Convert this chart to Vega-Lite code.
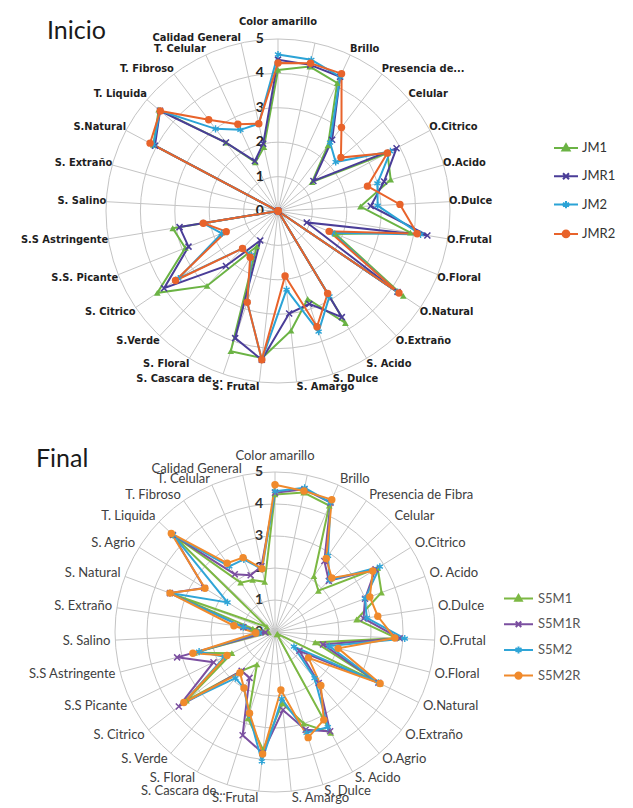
{
  "$schema": "https://vega.github.io/schema/vega-lite/v6.json",
  "padding": 0,
  "spacing": 0,
  "background": "white",
  "config": {"view": {"stroke": null}, "concat": {"spacing": 0}},
  "datasets": {
    "inicio": [
      {"i":0,"c":"Color amarillo","JM1":4.1,"JMR1":4.4,"JM2":4.55,"JMR2":4.3},
      {"i":1,"c":"","JM1":4.3,"JMR1":4.35,"JM2":4.5,"JMR2":4.4},
      {"i":2,"c":"Brillo","JM1":4.1,"JMR1":4.3,"JM2":4.3,"JMR2":4.4},
      {"i":3,"c":"Presencia de...","JM1":2.4,"JMR1":2.6,"JM2":2.5,"JMR2":3.05},
      {"i":4,"c":"Celular","JM1":1.3,"JMR1":1.35,"JM2":2.2,"JMR2":2.4},
      {"i":5,"c":"O.Citrico","JM1":3.6,"JMR1":3.9,"JM2":3.7,"JMR2":3.6},
      {"i":6,"c":"O.Acido","JM1":3.4,"JMR1":3.2,"JM2":3.0,"JMR2":2.7},
      {"i":7,"c":"O.Dulce","JM1":2.4,"JMR1":2.7,"JM2":2.9,"JMR2":3.55},
      {"i":8,"c":"O.Frutal","JM1":3.9,"JMR1":4.4,"JM2":4.2,"JMR2":4.1},
      {"i":9,"c":"O.Floral","JM1":1.8,"JMR1":0.9,"JM2":1.7,"JMR2":1.6},
      {"i":10,"c":"O.Natural","JM1":4.4,"JMR1":4.2,"JM2":4.2,"JMR2":4.25},
      {"i":11,"c":"O.Extraño","JM1":0,"JMR1":0,"JM2":0,"JMR2":0},
      {"i":12,"c":"S. Acido","JM1":3.8,"JMR1":3.6,"JM2":2.9,"JMR2":2.8},
      {"i":13,"c":"S. Dulce","JM1":2.7,"JMR1":2.85,"JM2":3.7,"JMR2":3.55},
      {"i":14,"c":"S. Amargo","JM1":3.5,"JMR1":3.0,"JM2":2.3,"JMR2":1.9},
      {"i":15,"c":"S. Frutal","JM1":4.3,"JMR1":4.35,"JM2":4.35,"JMR2":4.35},
      {"i":16,"c":"S. Cascara de...","JM1":4.3,"JMR1":3.9,"JM2":2.8,"JMR2":2.8},
      {"i":17,"c":"S. Floral","JM1":1.2,"JMR1":1.0,"JM2":1.5,"JMR2":1.57},
      {"i":18,"c":"S.Verde","JM1":3.0,"JMR1":2.2,"JM2":1.5,"JMR2":1.5},
      {"i":19,"c":"S. Citrico","JM1":4.24,"JMR1":4.0,"JM2":3.5,"JMR2":3.6},
      {"i":20,"c":"S.S. Picante","JM1":2.9,"JMR1":2.8,"JM2":1.76,"JMR2":1.62},
      {"i":21,"c":"S.S Astringente","JM1":3.1,"JMR1":2.9,"JM2":2.2,"JMR2":2.2},
      {"i":22,"c":"S. Salino","JM1":0,"JMR1":0,"JM2":0,"JMR2":0},
      {"i":23,"c":"S. Extraño","JM1":0,"JMR1":0,"JM2":0,"JMR2":0},
      {"i":24,"c":"S.Natural","JM1":4.1,"JMR1":4.05,"JM2":4.1,"JMR2":4.21},
      {"i":25,"c":"T. Liquida","JM1":4.55,"JMR1":4.5,"JM2":4.5,"JMR2":4.49},
      {"i":26,"c":"T. Fibroso","JM1":2.5,"JMR1":2.5,"JM2":3.0,"JMR2":3.33},
      {"i":27,"c":"T. Celular","JM1":1.56,"JMR1":1.6,"JM2":2.6,"JMR2":2.78},
      {"i":28,"c":"Calidad General","JM1":1.9,"JMR1":2.0,"JM2":2.6,"JMR2":2.6}
    ],
    "final": [
      {"i":0,"c":"Color amarillo","S5M1":4.3,"S5M1R":4.35,"S5M2":4.4,"S5M2R":4.6},
      {"i":1,"c":"","S5M1":4.45,"S5M1R":4.55,"S5M2":4.6,"S5M2R":4.5},
      {"i":2,"c":"Brillo","S5M1":4.3,"S5M1R":4.4,"S5M2":4.4,"S5M2R":4.5},
      {"i":3,"c":"Presencia de Fibra","S5M1":2.13,"S5M1R":2.7,"S5M2":2.9,"S5M2R":2.8},
      {"i":4,"c":"Celular","S5M1":1.87,"S5M1R":2.32,"S5M2":2.35,"S5M2R":2.45},
      {"i":5,"c":"O.Citrico","S5M1":3.78,"S5M1R":3.7,"S5M2":3.86,"S5M2R":3.6},
      {"i":6,"c":"O. Acido","S5M1":3.55,"S5M1R":3.0,"S5M2":3.0,"S5M2R":3.16},
      {"i":7,"c":"O.Dulce","S5M1":2.58,"S5M1R":2.8,"S5M2":2.9,"S5M2R":3.25},
      {"i":8,"c":"O.Frutal","S5M1":3.8,"S5M1R":3.9,"S5M2":4.06,"S5M2R":3.75},
      {"i":9,"c":"O.Floral","S5M1":1.3,"S5M1R":1.55,"S5M2":1.75,"S5M2R":2.04},
      {"i":10,"c":"O.Natural","S5M1":3.66,"S5M1R":3.6,"S5M2":3.6,"S5M2R":3.66},
      {"i":11,"c":"O.Extraño","S5M1":0.1,"S5M1R":0.96,"S5M2":0.75,"S5M2R":1.32},
      {"i":12,"c":"O.Agrio","S5M1":0.1,"S5M1R":2.1,"S5M2":1.9,"S5M2R":2.2},
      {"i":13,"c":"S. Acido","S5M1":3.6,"S5M1R":3.55,"S5M2":3.4,"S5M2R":3.14},
      {"i":14,"c":"S. Dulce","S5M1":3.0,"S5M1R":3.2,"S5M2":3.3,"S5M2R":3.46},
      {"i":15,"c":"S. Amargo","S5M1":2.24,"S5M1R":2.45,"S5M2":2.1,"S5M2R":1.82},
      {"i":16,"c":"S. Frutal","S5M1":3.7,"S5M1R":3.8,"S5M2":4.06,"S5M2R":3.83},
      {"i":17,"c":"S. Cascara de...","S5M1":2.83,"S5M1R":3.38,"S5M2":2.7,"S5M2R":2.66},
      {"i":18,"c":"S. Floral","S5M1":1.16,"S5M1R":1.64,"S5M2":2.0,"S5M2R":2.0},
      {"i":19,"c":"S. Verde","S5M1":1.6,"S5M1R":1.6,"S5M2":1.9,"S5M2R":1.68},
      {"i":20,"c":"S. Citrico","S5M1":3.5,"S5M1R":3.8,"S5M2":3.6,"S5M2R":3.6},
      {"i":21,"c":"S.S Picante","S5M1":1.5,"S5M1R":2.14,"S5M2":1.75,"S5M2R":1.67},
      {"i":22,"c":"S.S Astringente","S5M1":2.6,"S5M1R":3.16,"S5M2":2.45,"S5M2R":2.65},
      {"i":23,"c":"S. Salino","S5M1":0.2,"S5M1R":0.3,"S5M2":0.5,"S5M2R":0.6},
      {"i":24,"c":"S. Extraño","S5M1":0.7,"S5M1R":1.0,"S5M2":1.0,"S5M2R":1.3},
      {"i":25,"c":"S. Natural","S5M1":3.5,"S5M1R":3.5,"S5M2":3.5,"S5M2R":3.5},
      {"i":26,"c":"S. Agrio","S5M1":0.3,"S5M1R":2.6,"S5M2":1.75,"S5M2R":2.58},
      {"i":27,"c":"T. Liquida","S5M1":4.4,"S5M1R":4.4,"S5M2":4.4,"S5M2R":4.47},
      {"i":28,"c":"T. Fibroso","S5M1":1.88,"S5M1R":2.2,"S5M2":2.5,"S5M2R":2.62},
      {"i":29,"c":"T. Celular","S5M1":1.77,"S5M1R":1.93,"S5M2":2.47,"S5M2R":2.53},
      {"i":30,"c":"Calidad General","S5M1":1.6,"S5M1R":2.1,"S5M2":2.0,"S5M2R":2.02}
    ]
  },
  "resolve": {
    "scale": {"x": "independent", "y": "independent", "color": "independent", "size": "independent"},
    "legend": {"color": "independent"}
  },
  "vconcat": [
    {
      "width": 633,
      "height": 404,
      "title": {"text": "Inicio", "anchor": "start", "frame": "group", "orient": "top", "offset": -64, "dx": 47, "baseline": "alphabetic", "font": "Lato", "fontSize": 25, "fontWeight": "normal", "color": "#1a1a1a"},
      "resolve": {"scale": {"size": "independent"}},
      "layer": [
        {
          "data": {"values": [{"r":1},{"r":2},{"r":3},{"r":4},{"r":5}]},
          "transform": [{"calculate": "0", "as": "o"}],
          "mark": {"type": "point", "shape": "circle", "filled": false, "stroke": "#c4c4c4", "strokeWidth": 1, "opacity": 1},
          "encoding": {
            "x": {"field": "o", "type": "quantitative", "scale": {"domain": [-8.0814, 10.3198], "nice": false, "zero": false}, "axis": null},
            "y": {"field": "o", "type": "quantitative", "scale": {"domain": [-5.6105, 6.1337], "nice": false, "zero": false}, "axis": null},
            "size": {"field": "r", "type": "quantitative", "scale": {"type": "pow", "exponent": 2, "domain": [0, 5], "range": [0, 118336]}, "legend": null}
          }
        },
        {
          "data": {"name": "inicio"},
          "transform": [
            {"calculate": "datum.i*2*PI/29", "as": "a"},
            {"calculate": "0", "as": "o"},
            {"calculate": "5*sin(datum.a)", "as": "ex"},
            {"calculate": "5*cos(datum.a)", "as": "ey"}
          ],
          "mark": {"type": "rule", "stroke": "#c4c4c4", "strokeWidth": 1},
          "encoding": {
            "x": {"field": "o", "type": "quantitative", "scale": {"domain": [-8.0814, 10.3198], "nice": false, "zero": false}, "axis": null},
            "y": {"field": "o", "type": "quantitative", "scale": {"domain": [-5.6105, 6.1337], "nice": false, "zero": false}, "axis": null},
            "x2": {"field": "ex"},
            "y2": {"field": "ey"}
          }
        },
        {
          "data": {"values": [{"t":0},{"t":1},{"t":2},{"t":3},{"t":4},{"t":5}]},
          "transform": [{"calculate": "0", "as": "o"}],
          "mark": {"type": "text", "align": "right", "baseline": "middle", "dx": -14, "font": "Lato", "fontSize": 14, "fontWeight": "bold", "color": "#222"},
          "encoding": {
            "x": {"field": "o", "type": "quantitative", "scale": {"domain": [-8.0814, 10.3198], "nice": false, "zero": false}, "axis": null},
            "y": {"field": "t", "type": "quantitative", "scale": {"domain": [-5.6105, 6.1337], "nice": false, "zero": false}, "axis": null},
            "text": {"field": "t", "type": "quantitative"}
          }
        },
        {
          "data": {"name": "inicio"},
          "transform": [
            {"calculate": "datum.i*2*PI/29", "as": "a"},
            {"calculate": "sin(datum.a)", "as": "sx"},
            {"calculate": "cos(datum.a)", "as": "cy"},
            {"filter": "datum.sx > 0.05"},
            {"calculate": "4.98*datum.sx", "as": "lx"},
            {"calculate": "5.0*datum.cy + 0.16*max(-1, min(1, 1.5*datum.cy))", "as": "ly"}
          ],
          "mark": {"type": "text", "align": "left", "baseline": "middle", "font": "Liberation Sans Narrow, DejaVu Sans Condensed, Roboto", "fontSize": 11, "fontWeight": "bold", "color": "#1e1e1e"},
          "encoding": {
            "x": {"field": "lx", "type": "quantitative", "scale": {"domain": [-8.0814, 10.3198], "nice": false, "zero": false}, "axis": null},
            "y": {"field": "ly", "type": "quantitative", "scale": {"domain": [-5.6105, 6.1337], "nice": false, "zero": false}, "axis": null},
            "text": {"field": "c", "type": "nominal"}
          }
        },
        {
          "data": {"name": "inicio"},
          "transform": [
            {"calculate": "datum.i*2*PI/29", "as": "a"},
            {"calculate": "sin(datum.a)", "as": "sx"},
            {"calculate": "cos(datum.a)", "as": "cy"},
            {"filter": "datum.sx < -0.05"},
            {"calculate": "5.0*datum.sx", "as": "lx"},
            {"calculate": "5.0*datum.cy + 0.16*max(-1, min(1, 1.5*datum.cy))", "as": "ly"}
          ],
          "mark": {"type": "text", "align": "right", "baseline": "middle", "font": "Liberation Sans Narrow, DejaVu Sans Condensed, Roboto", "fontSize": 11, "fontWeight": "bold", "color": "#1e1e1e"},
          "encoding": {
            "x": {"field": "lx", "type": "quantitative", "scale": {"domain": [-8.0814, 10.3198], "nice": false, "zero": false}, "axis": null},
            "y": {"field": "ly", "type": "quantitative", "scale": {"domain": [-5.6105, 6.1337], "nice": false, "zero": false}, "axis": null},
            "text": {"field": "c", "type": "nominal"}
          }
        },
        {
          "data": {"name": "inicio"},
          "transform": [
            {"calculate": "datum.i*2*PI/29", "as": "a"},
            {"calculate": "sin(datum.a)", "as": "sx"},
            {"calculate": "cos(datum.a)", "as": "cy"},
            {"filter": "abs(datum.sx) <= 0.05"},
            {"calculate": "0", "as": "lx"},
            {"calculate": "5.0*datum.cy", "as": "ly"}
          ],
          "mark": {"type": "text", "align": "center", "baseline": "bottom", "dy": -12, "font": "Liberation Sans Narrow, DejaVu Sans Condensed, Roboto", "fontSize": 11, "fontWeight": "bold", "color": "#1e1e1e"},
          "encoding": {
            "x": {"field": "lx", "type": "quantitative", "scale": {"domain": [-8.0814, 10.3198], "nice": false, "zero": false}, "axis": null},
            "y": {"field": "ly", "type": "quantitative", "scale": {"domain": [-5.6105, 6.1337], "nice": false, "zero": false}, "axis": null},
            "text": {"field": "c", "type": "nominal"}
          }
        },
        {
          "data": {"name": "inicio"},
          "transform": [
            {"fold": ["JM1", "JMR1", "JM2", "JMR2"], "as": ["s", "v"]},
            {"calculate": "datum.i*2*PI/29", "as": "a"},
            {"calculate": "datum.v*sin(datum.a)", "as": "px"},
            {"calculate": "datum.v*cos(datum.a)", "as": "py"}
          ],
          "mark": {"type": "line", "interpolate": "linear-closed", "strokeWidth": 2},
          "encoding": {
            "x": {"field": "px", "type": "quantitative", "scale": {"domain": [-8.0814, 10.3198], "nice": false, "zero": false}, "axis": null},
            "y": {"field": "py", "type": "quantitative", "scale": {"domain": [-5.6105, 6.1337], "nice": false, "zero": false}, "axis": null},
            "order": {"field": "i", "type": "quantitative"},
            "color": {
              "field": "s", "type": "nominal",
              "scale": {"domain": ["JM1", "JMR1", "JM2", "JMR2"], "range": ["#6bb344", "#4a3d98", "#2ba3d6", "#e8632b"]},
              "legend": {
                "orient": "none", "legendX": 553, "legendY": 135, "title": null, "padding": 0,
                "symbolSize": 576, "symbolStrokeWidth": 2, "rowPadding": 8.3,
                "labelFont": "Lato", "labelFontSize": 13, "labelColor": "#333", "labelOffset": 3,
                "encode": {"symbols": {"update": {
                  "shape": {"signal": "datum.value==='JM1' ? 'M-1,0H1M0,-0.32L0.3,0.2H-0.3Z' : datum.value==='JMR1' ? 'M-1,0H1M-0.25,-0.25L0.25,0.25M-0.25,0.25L0.25,-0.25' : datum.value==='JM2' ? 'M-1,0H1M0,-0.3V0.3M-0.26,-0.15L0.26,0.15M-0.26,0.15L0.26,-0.15' : 'M-1,0H1M-0.28,0A0.28,0.28 0 1,0 0.28,0A0.28,0.28 0 1,0 -0.28,0Z'"},
                  "fill": {"signal": "datum.value==='JM1' ? '#6bb344' : datum.value==='JMR1' ? '#4a3d98' : datum.value==='JM2' ? '#2ba3d6' : '#e8632b'"},
                  "stroke": {"signal": "datum.value==='JM1' ? '#6bb344' : datum.value==='JMR1' ? '#4a3d98' : datum.value==='JM2' ? '#2ba3d6' : '#e8632b'"},
                  "strokeWidth": {"value": 2},
                  "opacity": {"value": 1}
                }}}
              }
            }
          }
        },
        {
          "data": {"name": "inicio"},
          "transform": [
            {"calculate": "datum.i*2*PI/29", "as": "a"},
            {"calculate": "datum.JM1*sin(datum.a)", "as": "px"},
            {"calculate": "datum.JM1*cos(datum.a)", "as": "py"}
          ],
          "mark": {"type": "point", "shape": "triangle-up", "filled": true, "color": "#6bb344", "opacity": 1, "size": 45},
          "encoding": {
            "x": {"field": "px", "type": "quantitative", "scale": {"domain": [-8.0814, 10.3198], "nice": false, "zero": false}, "axis": null},
            "y": {"field": "py", "type": "quantitative", "scale": {"domain": [-5.6105, 6.1337], "nice": false, "zero": false}, "axis": null}
          }
        },
        {
          "data": {"name": "inicio"},
          "transform": [
            {"calculate": "datum.i*2*PI/29", "as": "a"},
            {"calculate": "datum.JMR1*sin(datum.a)", "as": "px"},
            {"calculate": "datum.JMR1*cos(datum.a)", "as": "py"}
          ],
          "mark": {"type": "point", "shape": "M-1,-1L1,1M-1,1L1,-1", "filled": false, "stroke": "#4a3d98", "strokeWidth": 1.5, "opacity": 1, "size": 36},
          "encoding": {
            "x": {"field": "px", "type": "quantitative", "scale": {"domain": [-8.0814, 10.3198], "nice": false, "zero": false}, "axis": null},
            "y": {"field": "py", "type": "quantitative", "scale": {"domain": [-5.6105, 6.1337], "nice": false, "zero": false}, "axis": null}
          }
        },
        {
          "data": {"name": "inicio"},
          "transform": [
            {"calculate": "datum.i*2*PI/29", "as": "a"},
            {"calculate": "datum.JM2*sin(datum.a)", "as": "px"},
            {"calculate": "datum.JM2*cos(datum.a)", "as": "py"}
          ],
          "mark": {"type": "point", "shape": "M0,-1V1M-0.87,-0.5L0.87,0.5M-0.87,0.5L0.87,-0.5", "filled": false, "stroke": "#2ba3d6", "strokeWidth": 1.4, "opacity": 1, "size": 50},
          "encoding": {
            "x": {"field": "px", "type": "quantitative", "scale": {"domain": [-8.0814, 10.3198], "nice": false, "zero": false}, "axis": null},
            "y": {"field": "py", "type": "quantitative", "scale": {"domain": [-5.6105, 6.1337], "nice": false, "zero": false}, "axis": null}
          }
        },
        {
          "data": {"name": "inicio"},
          "transform": [
            {"calculate": "datum.i*2*PI/29", "as": "a"},
            {"calculate": "datum.JMR2*sin(datum.a)", "as": "px"},
            {"calculate": "datum.JMR2*cos(datum.a)", "as": "py"}
          ],
          "mark": {"type": "point", "shape": "circle", "filled": true, "color": "#e8632b", "opacity": 1, "size": 55},
          "encoding": {
            "x": {"field": "px", "type": "quantitative", "scale": {"domain": [-8.0814, 10.3198], "nice": false, "zero": false}, "axis": null},
            "y": {"field": "py", "type": "quantitative", "scale": {"domain": [-5.6105, 6.1337], "nice": false, "zero": false}, "axis": null}
          }
        }
      ]
    },
    {
      "width": 633,
      "height": 404,
      "title": {"text": "Final", "anchor": "start", "frame": "group", "orient": "top", "offset": -88, "dx": 36, "baseline": "alphabetic", "font": "Lato", "fontSize": 25, "fontWeight": "normal", "color": "#1a1a1a"},
      "resolve": {"scale": {"size": "independent"}},
      "layer": [
        {
          "data": {"values": [{"r":1},{"r":2},{"r":3},{"r":4},{"r":5}]},
          "transform": [{"calculate": "0", "as": "o"}],
          "mark": {"type": "point", "shape": "circle", "filled": false, "stroke": "#c4c4c4", "strokeWidth": 1, "opacity": 1},
          "encoding": {
            "x": {"field": "o", "type": "quantitative", "scale": {"domain": [-8.59375, 11.1875], "nice": false, "zero": false}, "axis": null},
            "y": {"field": "o", "type": "quantitative", "scale": {"domain": [-5.5, 7.125], "nice": false, "zero": false}, "axis": null},
            "size": {"field": "r", "type": "quantitative", "scale": {"type": "pow", "exponent": 2, "domain": [0, 5], "range": [0, 102400]}, "legend": null}
          }
        },
        {
          "data": {"name": "final"},
          "transform": [
            {"calculate": "datum.i*2*PI/31", "as": "a"},
            {"calculate": "0", "as": "o"},
            {"calculate": "5*sin(datum.a)", "as": "ex"},
            {"calculate": "5*cos(datum.a)", "as": "ey"}
          ],
          "mark": {"type": "rule", "stroke": "#c4c4c4", "strokeWidth": 1},
          "encoding": {
            "x": {"field": "o", "type": "quantitative", "scale": {"domain": [-8.59375, 11.1875], "nice": false, "zero": false}, "axis": null},
            "y": {"field": "o", "type": "quantitative", "scale": {"domain": [-5.5, 7.125], "nice": false, "zero": false}, "axis": null},
            "x2": {"field": "ex"},
            "y2": {"field": "ey"}
          }
        },
        {
          "data": {"values": [{"t":0},{"t":1},{"t":2},{"t":3},{"t":4},{"t":5}]},
          "transform": [{"calculate": "0", "as": "o"}],
          "mark": {"type": "text", "align": "right", "baseline": "middle", "dx": -12, "font": "Lato", "fontSize": 14, "fontWeight": "bold", "color": "#333"},
          "encoding": {
            "x": {"field": "o", "type": "quantitative", "scale": {"domain": [-8.59375, 11.1875], "nice": false, "zero": false}, "axis": null},
            "y": {"field": "t", "type": "quantitative", "scale": {"domain": [-5.5, 7.125], "nice": false, "zero": false}, "axis": null},
            "text": {"field": "t", "type": "quantitative"}
          }
        },
        {
          "data": {"name": "final"},
          "transform": [
            {"calculate": "datum.i*2*PI/31", "as": "a"},
            {"calculate": "sin(datum.a)", "as": "sx"},
            {"calculate": "cos(datum.a)", "as": "cy"},
            {"filter": "datum.sx > 0.05"},
            {"calculate": "5.15*datum.sx", "as": "lx"},
            {"calculate": "5.05*datum.cy + 0.15*max(-1, min(1, 1.5*datum.cy))", "as": "ly"}
          ],
          "mark": {"type": "text", "align": "left", "baseline": "middle", "font": "Lato", "fontSize": 13, "color": "#404040"},
          "encoding": {
            "x": {"field": "lx", "type": "quantitative", "scale": {"domain": [-8.59375, 11.1875], "nice": false, "zero": false}, "axis": null},
            "y": {"field": "ly", "type": "quantitative", "scale": {"domain": [-5.5, 7.125], "nice": false, "zero": false}, "axis": null},
            "text": {"field": "c", "type": "nominal"}
          }
        },
        {
          "data": {"name": "final"},
          "transform": [
            {"calculate": "datum.i*2*PI/31", "as": "a"},
            {"calculate": "sin(datum.a)", "as": "sx"},
            {"calculate": "cos(datum.a)", "as": "cy"},
            {"filter": "datum.sx < -0.05"},
            {"calculate": "5.15*datum.sx", "as": "lx"},
            {"calculate": "5.05*datum.cy + 0.15*max(-1, min(1, 1.5*datum.cy))", "as": "ly"}
          ],
          "mark": {"type": "text", "align": "right", "baseline": "middle", "font": "Lato", "fontSize": 13, "color": "#404040"},
          "encoding": {
            "x": {"field": "lx", "type": "quantitative", "scale": {"domain": [-8.59375, 11.1875], "nice": false, "zero": false}, "axis": null},
            "y": {"field": "ly", "type": "quantitative", "scale": {"domain": [-5.5, 7.125], "nice": false, "zero": false}, "axis": null},
            "text": {"field": "c", "type": "nominal"}
          }
        },
        {
          "data": {"name": "final"},
          "transform": [
            {"calculate": "datum.i*2*PI/31", "as": "a"},
            {"calculate": "sin(datum.a)", "as": "sx"},
            {"calculate": "cos(datum.a)", "as": "cy"},
            {"filter": "abs(datum.sx) <= 0.05"},
            {"calculate": "0", "as": "lx"},
            {"calculate": "5.0*datum.cy", "as": "ly"}
          ],
          "mark": {"type": "text", "align": "center", "baseline": "bottom", "dy": -9, "font": "Lato", "fontSize": 13, "color": "#404040"},
          "encoding": {
            "x": {"field": "lx", "type": "quantitative", "scale": {"domain": [-8.59375, 11.1875], "nice": false, "zero": false}, "axis": null},
            "y": {"field": "ly", "type": "quantitative", "scale": {"domain": [-5.5, 7.125], "nice": false, "zero": false}, "axis": null},
            "text": {"field": "c", "type": "nominal"}
          }
        },
        {
          "data": {"name": "final"},
          "transform": [
            {"fold": ["S5M1", "S5M1R", "S5M2", "S5M2R"], "as": ["s", "v"]},
            {"calculate": "datum.i*2*PI/31", "as": "a"},
            {"calculate": "datum.v*sin(datum.a)", "as": "px"},
            {"calculate": "datum.v*cos(datum.a)", "as": "py"}
          ],
          "mark": {"type": "line", "interpolate": "linear-closed", "strokeWidth": 2},
          "encoding": {
            "x": {"field": "px", "type": "quantitative", "scale": {"domain": [-8.59375, 11.1875], "nice": false, "zero": false}, "axis": null},
            "y": {"field": "py", "type": "quantitative", "scale": {"domain": [-5.5, 7.125], "nice": false, "zero": false}, "axis": null},
            "order": {"field": "i", "type": "quantitative"},
            "color": {
              "field": "s", "type": "nominal",
              "scale": {"domain": ["S5M1", "S5M1R", "S5M2", "S5M2R"], "range": ["#7cb843", "#7b4fa0", "#30a5d7", "#f08a2c"]},
              "legend": {
                "orient": "none", "legendX": 503, "legendY": 179, "title": null, "padding": 0,
                "symbolSize": 841, "symbolStrokeWidth": 2, "rowPadding": 2.7,
                "labelFont": "Lato", "labelFontSize": 13, "labelColor": "#555", "labelOffset": 4,
                "encode": {"symbols": {"update": {
                  "shape": {"signal": "datum.value==='S5M1' ? 'M-1,0H1M0,-0.24L0.23,0.16H-0.23Z' : datum.value==='S5M1R' ? 'M-1,0H1M-0.19,-0.19L0.19,0.19M-0.19,0.19L0.19,-0.19' : datum.value==='S5M2' ? 'M-1,0H1M0,-0.24V0.24M-0.21,-0.12L0.21,0.12M-0.21,0.12L0.21,-0.12' : 'M-1,0H1M-0.22,0A0.22,0.22 0 1,0 0.22,0A0.22,0.22 0 1,0 -0.22,0Z'"},
                  "fill": {"signal": "datum.value==='S5M1' ? '#7cb843' : datum.value==='S5M1R' ? '#7b4fa0' : datum.value==='S5M2' ? '#30a5d7' : '#f08a2c'"},
                  "stroke": {"signal": "datum.value==='S5M1' ? '#7cb843' : datum.value==='S5M1R' ? '#7b4fa0' : datum.value==='S5M2' ? '#30a5d7' : '#f08a2c'"},
                  "strokeWidth": {"value": 2},
                  "opacity": {"value": 1}
                }}}
              }
            }
          }
        },
        {
          "data": {"name": "final"},
          "transform": [
            {"calculate": "datum.i*2*PI/31", "as": "a"},
            {"calculate": "datum.S5M1*sin(datum.a)", "as": "px"},
            {"calculate": "datum.S5M1*cos(datum.a)", "as": "py"}
          ],
          "mark": {"type": "point", "shape": "triangle-up", "filled": true, "color": "#7cb843", "opacity": 1, "size": 45},
          "encoding": {
            "x": {"field": "px", "type": "quantitative", "scale": {"domain": [-8.59375, 11.1875], "nice": false, "zero": false}, "axis": null},
            "y": {"field": "py", "type": "quantitative", "scale": {"domain": [-5.5, 7.125], "nice": false, "zero": false}, "axis": null}
          }
        },
        {
          "data": {"name": "final"},
          "transform": [
            {"calculate": "datum.i*2*PI/31", "as": "a"},
            {"calculate": "datum.S5M1R*sin(datum.a)", "as": "px"},
            {"calculate": "datum.S5M1R*cos(datum.a)", "as": "py"}
          ],
          "mark": {"type": "point", "shape": "M-1,-1L1,1M-1,1L1,-1", "filled": false, "stroke": "#7b4fa0", "strokeWidth": 1.5, "opacity": 1, "size": 36},
          "encoding": {
            "x": {"field": "px", "type": "quantitative", "scale": {"domain": [-8.59375, 11.1875], "nice": false, "zero": false}, "axis": null},
            "y": {"field": "py", "type": "quantitative", "scale": {"domain": [-5.5, 7.125], "nice": false, "zero": false}, "axis": null}
          }
        },
        {
          "data": {"name": "final"},
          "transform": [
            {"calculate": "datum.i*2*PI/31", "as": "a"},
            {"calculate": "datum.S5M2*sin(datum.a)", "as": "px"},
            {"calculate": "datum.S5M2*cos(datum.a)", "as": "py"}
          ],
          "mark": {"type": "point", "shape": "M0,-1V1M-0.87,-0.5L0.87,0.5M-0.87,0.5L0.87,-0.5", "filled": false, "stroke": "#30a5d7", "strokeWidth": 1.4, "opacity": 1, "size": 50},
          "encoding": {
            "x": {"field": "px", "type": "quantitative", "scale": {"domain": [-8.59375, 11.1875], "nice": false, "zero": false}, "axis": null},
            "y": {"field": "py", "type": "quantitative", "scale": {"domain": [-5.5, 7.125], "nice": false, "zero": false}, "axis": null}
          }
        },
        {
          "data": {"name": "final"},
          "transform": [
            {"calculate": "datum.i*2*PI/31", "as": "a"},
            {"calculate": "datum.S5M2R*sin(datum.a)", "as": "px"},
            {"calculate": "datum.S5M2R*cos(datum.a)", "as": "py"}
          ],
          "mark": {"type": "point", "shape": "circle", "filled": true, "color": "#f08a2c", "opacity": 1, "size": 55},
          "encoding": {
            "x": {"field": "px", "type": "quantitative", "scale": {"domain": [-8.59375, 11.1875], "nice": false, "zero": false}, "axis": null},
            "y": {"field": "py", "type": "quantitative", "scale": {"domain": [-5.5, 7.125], "nice": false, "zero": false}, "axis": null}
          }
        }
      ]
    }
  ]
}
